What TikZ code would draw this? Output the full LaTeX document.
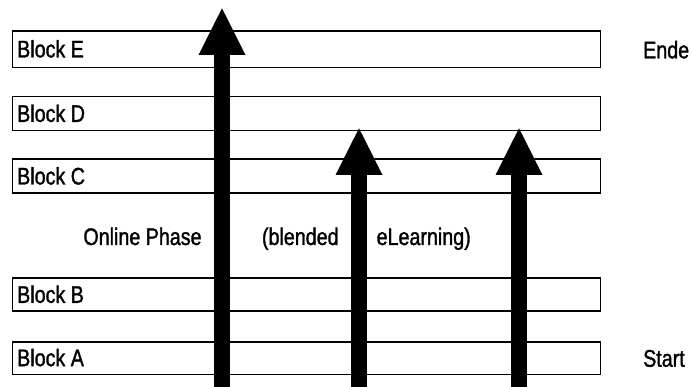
\documentclass[tikz,border=0pt]{standalone}
\usepackage{fontspec}
\setmainfont{Liberation Sans}[FakeStretch=0.82, FakeBold=1.3]
\usetikzlibrary{arrows.meta}
\tikzset{
  blockbox/.style={draw, line width=1.6pt},
  blocktext/.style={inner sep=0pt, font=\fontsize{24}{28}\selectfont},
  phasearrow/.style={line width=16.5pt, -{Triangle[width=47pt, length=46.7pt, line width=0pt]}}
}
\begin{document}
\begin{tikzpicture}[x=1pt, y=-1pt]
\useasboundingbox (0,0) rectangle (693,387);
\foreach \n/\t/\b in {E/31/67.5, D/96.7/130.7, C/159.3/193.3, B/278.3/311, A/341.7/374.3}
{
    \draw[blockbox] (12.5,\t) rectangle (600.5,\b);
    \node[blocktext, anchor=base west] (block\n) at (17,{(\t+\b)/2+8.2}) {Block \n};
}
\node[blocktext, anchor=base west] (ende) at (643,58.3) {Ende};
\node[blocktext, anchor=base west] (start) at (643,366.7) {Start};

\node[blocktext, anchor=base] (online) at (142.5,245) {Online Phase};
\node[blocktext, anchor=base] (blended) at (300.3,245) {(blended};
\node[blocktext, anchor=base] (elearn) at (423.7,245) {eLearning)};

\foreach \i/\x/\tip in {1/222/8.3, 2/359/128.3, 3/519/128.3}
{
    \coordinate (foot\i) at (\x,387);
    \coordinate (head\i) at (\x,\tip);
    \draw[phasearrow] (foot\i) -- (head\i);
}
\end{tikzpicture}
\end{document}
